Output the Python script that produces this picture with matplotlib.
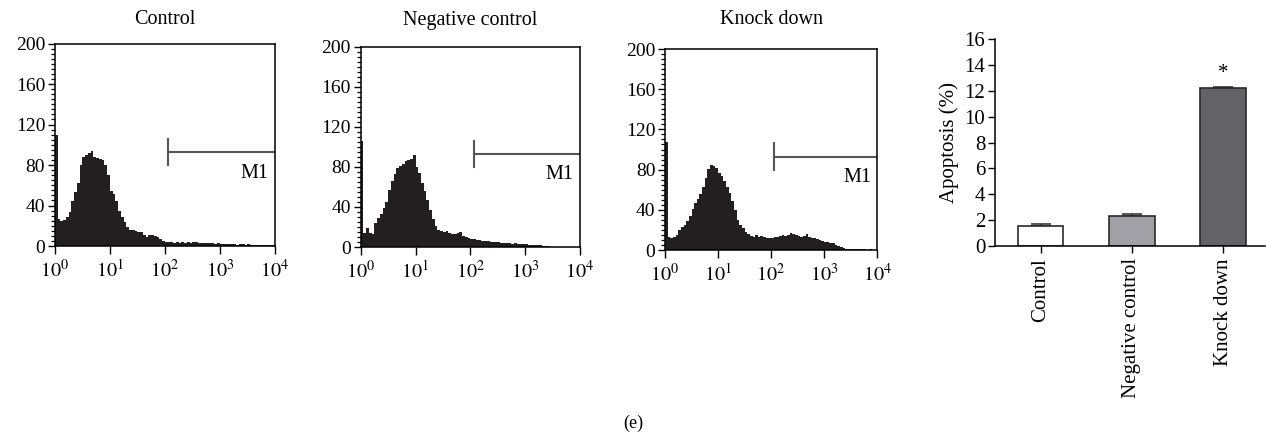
import numpy as np
import matplotlib
matplotlib.use("Agg")
import matplotlib.pyplot as plt

plt.rcParams['font.family'] = ['Liberation Serif', 'DejaVu Serif']
plt.rcParams['mathtext.fontset'] = 'stix'

# flow cytometry histograms: 80 log-spaced bins from 10^0 to 10^4 (20 per decade)
hist_titles = ["Control", "Negative control", "Knock down"]

control_counts = [
    110, 27, 25, 26, 29, 34, 44, 53, 62, 80,
    88, 90, 92, 94, 88, 87, 86, 85, 80, 70,
    54, 51, 44, 35, 29, 24, 19, 16, 16, 15,
    14, 14, 11, 9, 11, 11, 10, 9, 7, 5,
    4, 3.5, 3.5, 3, 3.5, 3, 3.5, 3, 3.5, 3,
    4, 3.5, 3, 2.5, 3, 2.5, 3, 2.5, 2, 2.5,
    2, 2, 1.5, 2, 1.5, 1.5, 1, 1.5, 1.5, 1,
    1.5, 1, 1, 0.5, 0.5, 1, 0.5, 0.5, 0.5, 0.5,
]
negative_counts = [
    106, 14, 19, 14, 13, 24, 29, 33, 39, 45,
    57, 66, 73, 79, 81, 83, 86, 87, 88, 92,
    80, 74, 64, 56, 47, 37, 28, 21, 17, 16,
    15, 16, 14, 13, 13, 14, 15, 11, 10, 9,
    8, 8, 7, 7, 6, 6, 6, 5, 5, 5,
    5, 4, 4.5, 4, 4, 3.5, 4, 3.5, 3, 3,
    3, 2.5, 2.5, 2, 2, 2, 1.5, 1, 1, 0.5,
    0.5, 0.5, 0.5, 0.5, 0.5, 0.5, 0.5, 0.5, 0.5, 0.5,
]
knockdown_counts = [
    107, 13, 12, 13, 15, 20, 23, 25, 29, 34,
    41, 47, 51, 56, 63, 72, 81, 85, 84, 82,
    77, 74, 69, 63, 57, 49, 40, 30, 25, 22,
    18, 16, 14, 13, 15, 13, 14, 13, 12, 12,
    12, 13, 13, 14, 15, 14, 15, 17, 16, 15,
    14, 13, 14, 16, 13, 12, 12, 11, 10, 9,
    8, 8, 7, 7, 5, 4, 3, 2, 1.5, 1.5,
    1.5, 1, 1, 1, 1, 1, 0.5, 1, 0.5, 0.5,
]
hist_counts = [control_counts, negative_counts, knockdown_counts]
decades = [1, 10, 100, 1000, 10000]

# M1 gate
gate_start = 115
gate_end = 10000
gate_level = 93
m1_label_x = 4300
m1_label_y = 72

# apoptosis bar chart
groups = ["Control", "Negative control", "Knock down"]
apoptosis = [1.52, 2.30, 12.2]
apoptosis_err = [0.15, 0.12, 0.13]
bar_colors = ["white", "#a2a1a8", "#636366"]

fig = plt.figure(figsize=(12.66, 4.40), dpi=100)

hist_boxes = [
    [0.0434, 0.4409, 0.1738, 0.4602],
    [0.2849, 0.4386, 0.1732, 0.4552],
    [0.5253, 0.4318, 0.1675, 0.4568],
]
edges = np.logspace(0, 4, 81)

for box, title, counts in zip(hist_boxes, hist_titles, hist_counts):
    ax = fig.add_axes(box)
    ax.stairs(counts, edges, fill=True, color="#231f20", linewidth=0)
    ax.set_xscale("log")
    ax.set_xlim(1, 10000)
    ax.set_ylim(0, 200)
    ax.set_xticks(decades)
    ax.set_xticklabels([r"$10^{%d}$" % i for i in range(5)])
    ax.set_yticks([0, 40, 80, 120, 160, 200])
    ax.set_yticks(np.arange(0, 201, 5), minor=True)
    ax.tick_params(axis="both", which="major", direction="out", length=5,
                   width=1, labelsize=14, pad=2)
    ax.tick_params(axis="both", which="minor", direction="out", length=3, width=0.9)
    ax.tick_params(axis="x", which="major", length=6, pad=4, labelsize=14.5)
    ax.tick_params(axis="x", which="minor", length=4)
    for s in ax.spines.values():
        s.set_linewidth(1.1)
    # panel titles all sit on one line above the frames
    fig.text(box[0] + box[2] / 2, 1 - 20 / 440, title, fontsize=14.5,
             ha="center", va="center")
    # M1 marker
    ax.plot([gate_start, gate_end], [gate_level, gate_level], color="#555555", lw=1.5)
    ax.plot([gate_start, gate_start], [gate_level - 13, gate_level + 13], color="#555555", lw=1.5)
    ax.text(m1_label_x, m1_label_y, "M1", fontsize=14.5, ha="center", va="center")

# bar chart
bx = fig.add_axes([0.786, 0.4416, 0.2133, 0.4690])
x = np.arange(len(groups))
bx.bar(x, apoptosis, width=0.5, color=bar_colors, edgecolor="#2a2a2a", linewidth=1.2, zorder=2)
bx.errorbar(x, apoptosis, yerr=[np.zeros(3), apoptosis_err], fmt="none",
            ecolor="#2a2a2a", elinewidth=1.1, capsize=7, capthick=1.1, zorder=1)
bx.text(x[2], apoptosis[2] + 0.45, "*", ha="center", va="bottom", fontsize=15)
bx.set_xlim(-0.5, 2.46)
bx.set_ylim(0, 16)
bx.set_yticks(np.arange(0, 17, 2))
bx.set_xticks(x)
bx.set_xticklabels(groups, rotation=90)
bx.spines["top"].set_visible(False)
bx.spines["right"].set_visible(False)
bx.spines["left"].set_linewidth(1.1)
bx.spines["bottom"].set_linewidth(1.1)
bx.tick_params(axis="both", direction="out", length=5, width=1, labelsize=15, pad=2)
bx.tick_params(axis="x", pad=4)
bx.set_ylabel("Apoptosis (%)", fontsize=15, labelpad=4)

fig.text(0.5, 0.038, "(e)", ha="center", va="center", fontsize=13)

fig.savefig("out.png", dpi=100)
